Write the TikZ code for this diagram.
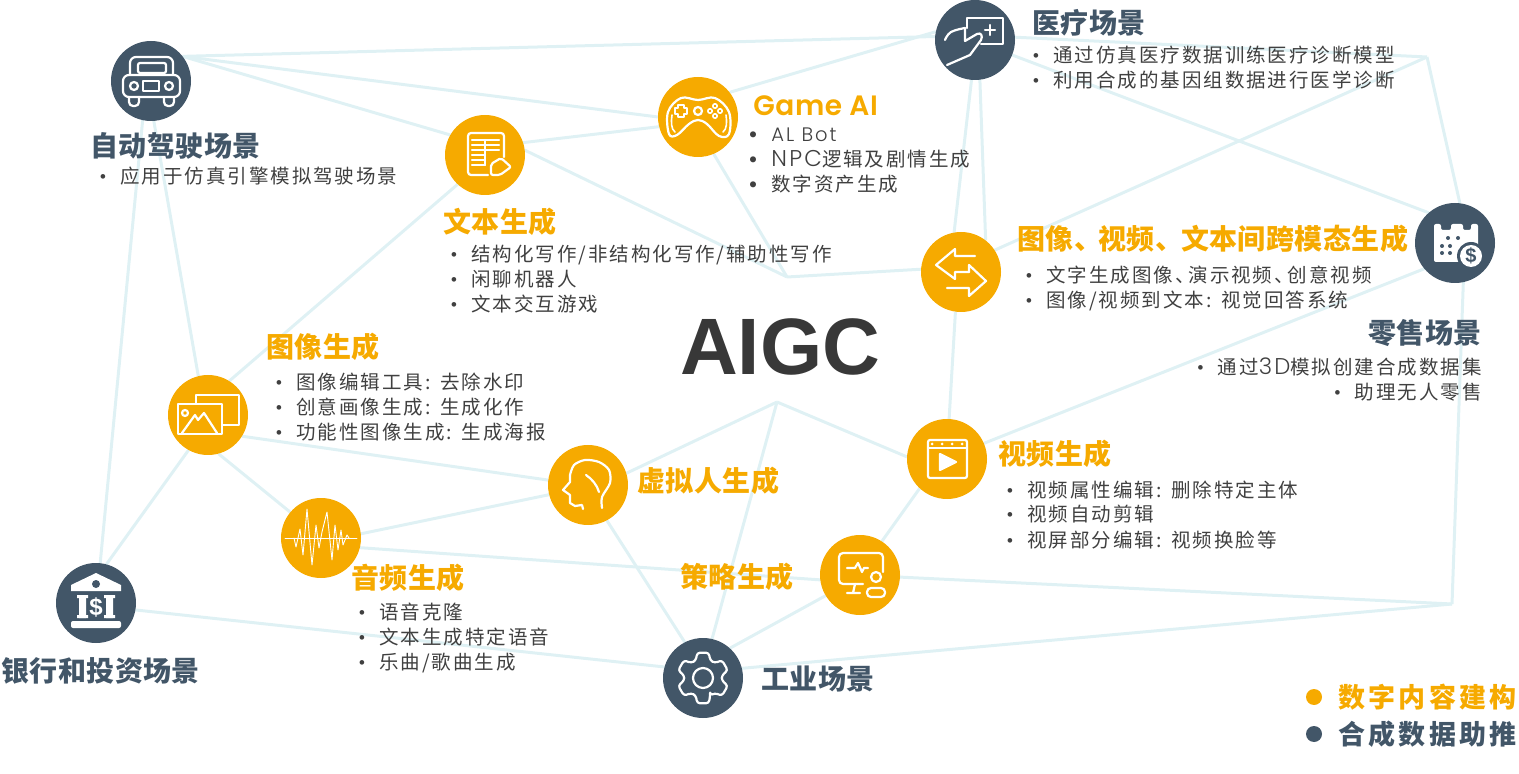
\documentclass[tikz,border=0pt]{standalone}
\usepackage{fontspec}
\usetikzlibrary{backgrounds}
\setmainfont[LetterSpace=10]{Noto Sans CJK SC}
\newfontfamily\headfont[LetterSpace=1.5]{Noto Sans CJK SC}
\newfontfamily\legendfont[LetterSpace=12]{Noto Sans CJK SC}
\newfontfamily\lat[LetterSpace=10]{Poppins Light}
\newfontfamily\gamefont[LetterSpace=2]{Poppins SemiBold}
\newfontfamily\bigfont{Liberation Sans}
\definecolor{genorange}{HTML}{F6AA00}
\definecolor{scenslate}{HTML}{425668}
\definecolor{linkblue}{HTML}{DFF1F4}
\definecolor{bodygray}{HTML}{404040}
\newcommand{\dotmark}{\makebox[8.5pt][l]{\hspace*{-2pt}\fontsize{10pt}{10pt}\selectfont\lat •}}
\newcommand{\bigdotmark}{\makebox[8.5pt][l]{\hspace*{-3pt}\raisebox{-1pt}{\fontsize{13pt}{13pt}\selectfont\lat •}}}
\newcommand{\latbig}{\lat\fontsize{11.4pt}{11pt}\selectfont}
\newcommand{\csep}{:\kern1.7pt\ }
\newcommand{\dunkern}{、\kern-3pt }
\begin{document}
\begin{tikzpicture}[x=0.5pt, y=-0.5pt,
  gen/.style = {circle, fill=genorange, minimum size=40pt, inner sep=0pt, outer sep=0pt},
  scen/.style = {circle, fill=scenslate, minimum size=40pt, inner sep=0pt, outer sep=0pt},
  link/.style = {draw=linkblue, line width=1.5pt},
  gentitle/.style = {anchor=west, inner sep=0pt, text=genorange, font=\headfont\bfseries\fontsize{14pt}{15pt}\selectfont},
  scentitle/.style = {anchor=west, inner sep=0pt, text=scenslate, font=\headfont\bfseries\fontsize{14pt}{15pt}\selectfont},
  entry/.style = {anchor=west, inner sep=0pt, text=bodygray, text height=9.6pt, text depth=1.6pt, font=\fontsize{9.75pt}{11pt}\selectfont},
  icon/.style = {draw=white, line width=1.1pt, line join=round, line cap=round}]
\useasboundingbox (0,0) rectangle (1519,774);

\node[scen] (car) at (151,81) {};
\node[scen] (med) at (975,40) {};
\node[scen] (retail) at (1455,243) {};
\node[scen] (bank) at (96,603) {};
\node[scen] (gear) at (703,678) {};
\node[gen] (doc) at (485,155) {};
\node[gen] (game) at (698,117) {};
\node[gen] (cross) at (961,272) {};
\node[gen] (img) at (208,415) {};
\node[gen] (audio) at (321,538) {};
\node[gen] (human) at (588,485) {};
\node[gen] (video) at (947,459) {};
\node[gen] (plan) at (860,575) {};

\coordinate (midjoin) at (787,277);
\coordinate (topjoin) at (1427,57);
\coordinate (apex) at (777,402);
\coordinate (lowjoin) at (1452,604);

\begin{scope}[on background layer]
\draw[link] (car.38) -- (med.175);
\draw[link] (car.38) -- (game.180);
\draw[link] (car.38) -- (doc.150);
\draw[link] (car.258) -- (bank.84);
\draw[link] (car.274) -- (img.104);
\draw[link] (doc.18) -- (game.194);
\draw[link] (doc.227) -- (img.58);
\draw[link] (doc.7) -- (midjoin);
\draw[link] (game.293) -- (midjoin);
\draw[link] (midjoin) -- (cross.176);
\draw[link] (game.38) -- (med.168);
\draw[link] (med.265) -- (cross.100);
\draw[link] (med.277) -- (cross.52);
\draw[link] (med.4) -- (topjoin);
\draw[link] (med.338) -- (retail.131);
\draw[link] (cross.33) -- (topjoin);
\draw[link] (topjoin) -- (retail.83);
\draw[link] (cross.262) -- (video.87);
\draw[link] (retail.220) -- (video.23);
\draw[link] (retail.282) -- (lowjoin);
\draw[link] (plan.357) -- (lowjoin);
\draw[link] (gear.14) -- (lowjoin);
\draw[link] (video.227) -- (plan.57);
\draw[link] (video.177) -- (apex);
\draw[link] (human.17) -- (apex);
\draw[link] (gear.77) -- (apex);
\draw[link] (plan.211) -- (gear.48);
\draw[link] (audio.346) -- (plan.187);
\draw[link] (audio.6) -- (human.194);
\draw[link] (img.328) -- (human.173);
\draw[link] (img.241) -- (bank.75);
\draw[link] (img.285) -- (audio.140);
\draw[link] (human.298) -- (gear.117);
\draw[link] (bank.350) -- (gear.164);
\end{scope}

\begin{scope}[shift={(car)}, icon]
\draw[rounded corners=3pt] (-21,-6) -- (-21,-24) -- (22,-24) -- (22,-6);
\draw[rounded corners=3pt] (-28,16) -- (-28,-6) -- (29,-6) -- (29,16) -- cycle;
\draw[rounded corners=1pt] (-13,-18) rectangle (15,-8);
\draw (-17,5) circle (4) (18,5) circle (4);
\draw (-8,0) rectangle (8,10);
\draw[rounded corners=2pt] (-22,16) -- (-22,25) -- (-12,25) -- (-12,16);
\draw[rounded corners=2pt] (13,16) -- (13,25) -- (23,25) -- (23,16);
\end{scope}

\begin{scope}[shift={(doc)}, icon]
\draw[rounded corners=1.5pt] (19,2) -- (19,-22) -- (-17,-22) -- (-17,20) -- (3,20);
\foreach \rowy in {-15,-10,-5} \draw (-13,\rowy) -- (14,\rowy);
\foreach \rowy in {0,5,10} \draw (-13,\rowy) -- (0,\rowy);
\draw (0,-15) -- (0,10);
\draw[fill=genorange, rounded corners=1pt] (6,20) -- (6,9) -- (16,3) -- (26,12) -- (15,20) -- cycle;
\end{scope}

\begin{scope}[shift={(game)}, icon]
\draw plot[smooth cycle, tension=0.6] coordinates {(-29,17) (-30,-5) (-17,-19) (0,-17) (17,-19) (31,-5) (31,17) (21,19) (9,7) (0,3) (-9,7) (-21,18)};
\draw[line width=0.8pt] (-26,-2) .. controls (-27,5) and (-27,12) .. (-23,15);
\draw[line width=0.8pt] (28,-2) .. controls (29,5) and (29,12) .. (25,15);
\draw (-20,-12) -- (-14,-12) -- (-14,-9) -- (-11,-9) -- (-11,-3) -- (-14,-3) -- (-14,0) -- (-20,0) -- (-20,-3) -- (-23,-3) -- (-23,-9) -- (-20,-9) -- cycle;
\draw (0,-6) circle (4);
\draw[line width=0.8pt] (17,-11) circle (2.2) (12,-6) circle (2.2) (22,-6) circle (2.2) (17,-1) circle (2.2);
\end{scope}

\begin{scope}[shift={(med)}, icon]
\draw (-8,-12) -- (-8,-22) -- (28,-22) -- (28,4) -- (6,4);
\draw (15,-15) -- (15,-5) (10,-10) -- (20,-10);
\draw plot[smooth, tension=0.7] coordinates {(-30,0) (-24,-8) (-10,-12)};
\draw (-10,-12) -- (-10,1) -- (2,-6) .. controls (6,-8) and (8,-4) .. (6,0) -- (-5,15) -- (-28,25);
\end{scope}

\begin{scope}[shift={(cross)}, icon]
\draw (14,-16) -- (-6,-16) -- (-6,-23) -- (-25,-7) -- (-6,7) -- (-6,0) -- (8,0);
\draw (8,0) -- (8,-7) -- (25,9) -- (8,24) -- (8,16) -- (-14,16);
\end{scope}

\begin{scope}[shift={(img)}, icon]
\draw (-12,-12) -- (-12,-20) -- (31,-20) -- (31,10) -- (14,10);
\draw (-30,-11) rectangle (14,19);
\draw (-23,-2) circle (3);
\draw (-26,18) -- (-13,0) -- (-10,5) -- (-4,-2) -- (9,18);
\end{scope}

\begin{scope}[shift={(audio)}, icon]
\draw[line width=0.45pt] (-36,0) -- (36,0);
\draw[line width=0.45pt] (-27,0) -- (-25,9) -- (-21,-9) -- (-18,17) -- (-14,-29) -- (-9,27) -- (-5,-13) -- (-2,10) -- (1,-6) -- (6,-26) -- (11,22) -- (14,-13) -- (17,12) -- (20,-8) -- (22,7) -- (26,-3) -- (28,0);
\end{scope}

\begin{scope}[shift={(human)}, icon]
\draw plot[smooth, tension=0.5] coordinates {(14,23) (14,12) (22,-2) (21,-15) (11,-23) (-3,-25) (-14,-20) (-18,-10)};
\draw (-18,-10) -- (-18,-3) -- (-25,5) -- (-18,10) -- (-18,18) -- (-13,21) -- (-6,20) -- (-5,24);
\draw (-2,-10) .. controls (4,-6) and (9,0) .. (11,7);
\end{scope}

\begin{scope}[shift={(video)}, icon]
\draw[rounded corners=1pt] (-19,-19) rectangle (20,19);
\draw (-19,-11) -- (20,-11);
\foreach \dotx in {-15,-5,5,15} \fill[white] (\dotx,-15) circle (1.5);
\draw[fill=white] (-7,-5) -- (9,3) -- (-7,11) -- cycle;
\end{scope}

\begin{scope}[shift={(plan)}, icon]
\draw[rounded corners=2pt] (23,-3) -- (23,-22) -- (-21,-22) -- (-21,9) -- (3,9);
\draw (-5,9) -- (-7,18) (-13,18) -- (0,18);
\draw (-13,-7) -- (-5,-7) -- (-2,-12) -- (2,-3) -- (4,-7) -- (8,-7);
\draw (16,2) circle (5);
\draw[rounded corners=2pt] (7,13) rectangle (25,22);
\end{scope}

\begin{scope}[shift={(gear)}, icon]
\draw[rounded corners=1.5pt] (68:19) \foreach \tooth in {90,150,...,390} {-- ({\tooth-22}:19) -- ({\tooth-13}:26) -- ({\tooth+13}:26) -- ({\tooth+22}:19)} -- cycle;
\draw (0,0) circle (10);
\end{scope}

\begin{scope}[shift={(retail)}]
\fill[white, rounded corners=1pt] (-21,-19) -- (-14,-19) -- (-14,-13) -- (-4,-13) -- (-4,-19) -- (8,-19) -- (8,-13) -- (16,-13) -- (16,-19) -- (23,-19) -- (23,19) -- (-21,19) -- cycle;
\foreach \dotx/\doty in {-7/-5,3/-5,-13/3,-5/3,-13/10,-5/10} \fill[scenslate] (\dotx,\doty) circle (2);
\fill[scenslate] (16,13) circle (14);
\fill[white] (16,13) circle (11);
\node[inner sep=0pt, text=scenslate, font=\bfseries\bigfont\fontsize{10pt}{10pt}\selectfont] (coin) at (16,13) {\$};
\end{scope}

\begin{scope}[shift={(bank)}]
\fill[white] (-25,-12) -- (-25,-18) -- (0,-30) -- (25,-18) -- (25,-12) -- cycle;
\fill[scenslate] (0,-19) circle (4);
\fill[white] (-17,-8) rectangle (-10,15) (10,-8) rectangle (17,15);
\fill[white] (-19,-8) rectangle (-8,-5) (-19,12) rectangle (-8,15);
\fill[white] (8,-8) rectangle (19,-5) (8,12) rectangle (19,15);
\fill[white, rounded corners=1pt] (-25,18) rectangle (25,25);
\node[inner sep=0pt, text=white, font=\bfseries\bigfont\fontsize{12pt}{12pt}\selectfont] (bankmark) at (0,4) {\$};
\end{scope}

\node[anchor=center, inner sep=0pt, text=black!78, font=\bigfont\bfseries\fontsize{40pt}{40pt}\selectfont] (aigc) at (780,347) {AIGC};

\node[scentitle] (cartitle) at (90,146) {自动驾驶场景};
\node[entry] (car1) at (103,176) {\dotmark 应用于仿真引擎模拟驾驶场景};

\node[gentitle] (doctitle) at (443,222) {文本生成};
\node[entry] (doc1) at (454,254) {\dotmark 结构化写作/非结构化写作/辅助性写作};
\node[entry] (doc2) at (454,279) {\dotmark 闲聊机器人};
\node[entry] (doc3) at (454,304) {\dotmark 文本交互游戏};

\node[anchor=west, inner sep=0pt, text=genorange, font=\gamefont\fontsize{14pt}{15pt}\selectfont] (gametitle) at (753,106) {Game AI};
\node[entry] (game1) at (754,134) {\bigdotmark {\lat AL Bot}};
\node[entry] (game2) at (754,159) {\bigdotmark {\latbig NPC}逻辑及剧情生成};
\node[entry] (game3) at (754,184) {\bigdotmark 数字资产生成};

\node[scentitle] (medtitle) at (1032,23) {医疗场景};
\node[entry] (med1) at (1036,55) {\dotmark 通过仿真医疗数据训练医疗诊断模型};
\node[entry] (med2) at (1036,80) {\dotmark 利用合成的基因组数据进行医学诊断};

\node[gentitle] (crosstitle) at (1017,239) {图像、\kern-2pt 视频、\kern-1pt 文本间跨模态生成};
\node[entry] (cross1) at (1029,275) {\dotmark 文字生成图像\dunkern 演示视频\dunkern 创意视频};
\node[entry] (cross2) at (1029,300) {\dotmark 图像/视频到文本\csep 视觉回答系统};

\node[scentitle, anchor=east] (retailtitle) at (1482,333) {零售场景};
\node[entry, anchor=east] (retail1) at (1482,367) {\dotmark 通过{\latbig 3D}模拟创建合成数据集};
\node[entry, anchor=east] (retail2) at (1482,392) {\dotmark 助理无人零售};

\node[gentitle] (imgtitle) at (266,347) {图像生成};
\node[entry] (img1) at (279,382) {\dotmark 图像编辑工具\csep 去除水印};
\node[entry] (img2) at (279,407) {\dotmark 创意画像生成\csep 生成化作};
\node[entry] (img3) at (279,432) {\dotmark 功能性图像生成\csep 生成海报};

\node[gentitle] (videotitle) at (998,454) {视频生成};
\node[entry] (video1) at (1010,489) {\dotmark 视频属性编辑\csep 删除特定主体};
\node[entry] (video2) at (1010,514) {\dotmark 视频自动剪辑};
\node[entry] (video3) at (1010,539) {\dotmark 视屏部分编辑\csep 视频换脸等};

\node[gentitle] (humantitle) at (637,481) {虚拟人生成};

\node[gentitle] (audiotitle) at (351,578) {音频生成};
\node[entry] (audio1) at (362,611) {\dotmark 语音克隆};
\node[entry] (audio2) at (362,636) {\dotmark 文本生成特定语音};
\node[entry] (audio3) at (362,661) {\dotmark 乐曲/歌曲生成};

\node[gentitle] (plantitle) at (680,577) {策略生成};
\node[scentitle] (geartitle) at (761,679) {工业场景};
\node[scentitle] (banktitle) at (1,671) {银行和投资场景};

\fill[genorange] (1314,697) circle (8);
\fill[scenslate] (1314,734) circle (8);
\node[anchor=west, inner sep=0pt, text=genorange, font=\legendfont\bfseries\fontsize{13.5pt}{15pt}\selectfont] (legend1) at (1338,697) {数字内容建构};
\node[anchor=west, inner sep=0pt, text=scenslate, font=\legendfont\bfseries\fontsize{13.5pt}{15pt}\selectfont] (legend2) at (1338,734) {合成数据助推};

\end{tikzpicture}
\end{document}
